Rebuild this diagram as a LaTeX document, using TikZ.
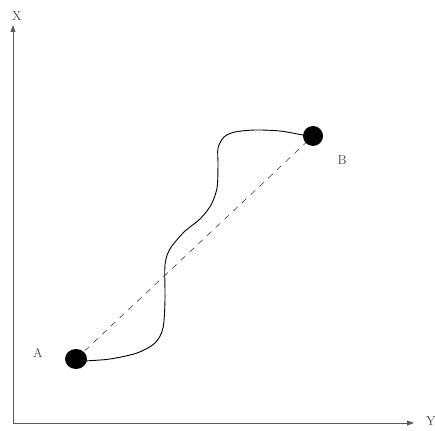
\documentclass[tikz,border=0pt]{standalone}
\usetikzlibrary{arrows.meta}
\begin{document}
\begin{tikzpicture}[x=1pt,y=-1pt,
  axis/.style={draw=black!65,line width=0.8pt,-{Triangle[length=7pt,width=5pt]}},
  lbl/.style={text=black!75,font=\fontsize{13}{15}\selectfont,inner sep=0pt},
  route/.style={draw=black,line width=0.9pt},
  chord/.style={draw=black!75,line width=0.6pt,dash pattern=on 6pt off 6pt}]
\useasboundingbox (0,0) rectangle (435,430);
\coordinate (O) at (13,423);
\coordinate (Xend) at (13,25);
\coordinate (Yend) at (414,423);
\draw[axis] (O) -- (Xend);
\draw[axis] (O) -- (Yend);
\node[lbl] (xl) at (17,16) {X};
\node[lbl] (yl) at (431,421) {Y};
\coordinate (A) at (76,359);
\coordinate (B) at (313,136);
\draw[chord] (A) -- (B);
\draw[route] plot[smooth,tension=0.5] coordinates {(76,362) (85,361) (110,359) (137,353) (155,343) (163,328) (165,300) (165,265) (170,249) (184,232) (200,219) (211,205) (217,188) (218,165) (218,148) (224,137) (235,132) (255,130) (280,131) (303,135) (313,136)};
\fill (A) ellipse (11pt and 10pt);
\fill (B) ellipse (10pt and 10pt);
\node[lbl] (al) at (38,353) {A};
\node[lbl] (bl) at (342,160) {B};
\end{tikzpicture}
\end{document}
